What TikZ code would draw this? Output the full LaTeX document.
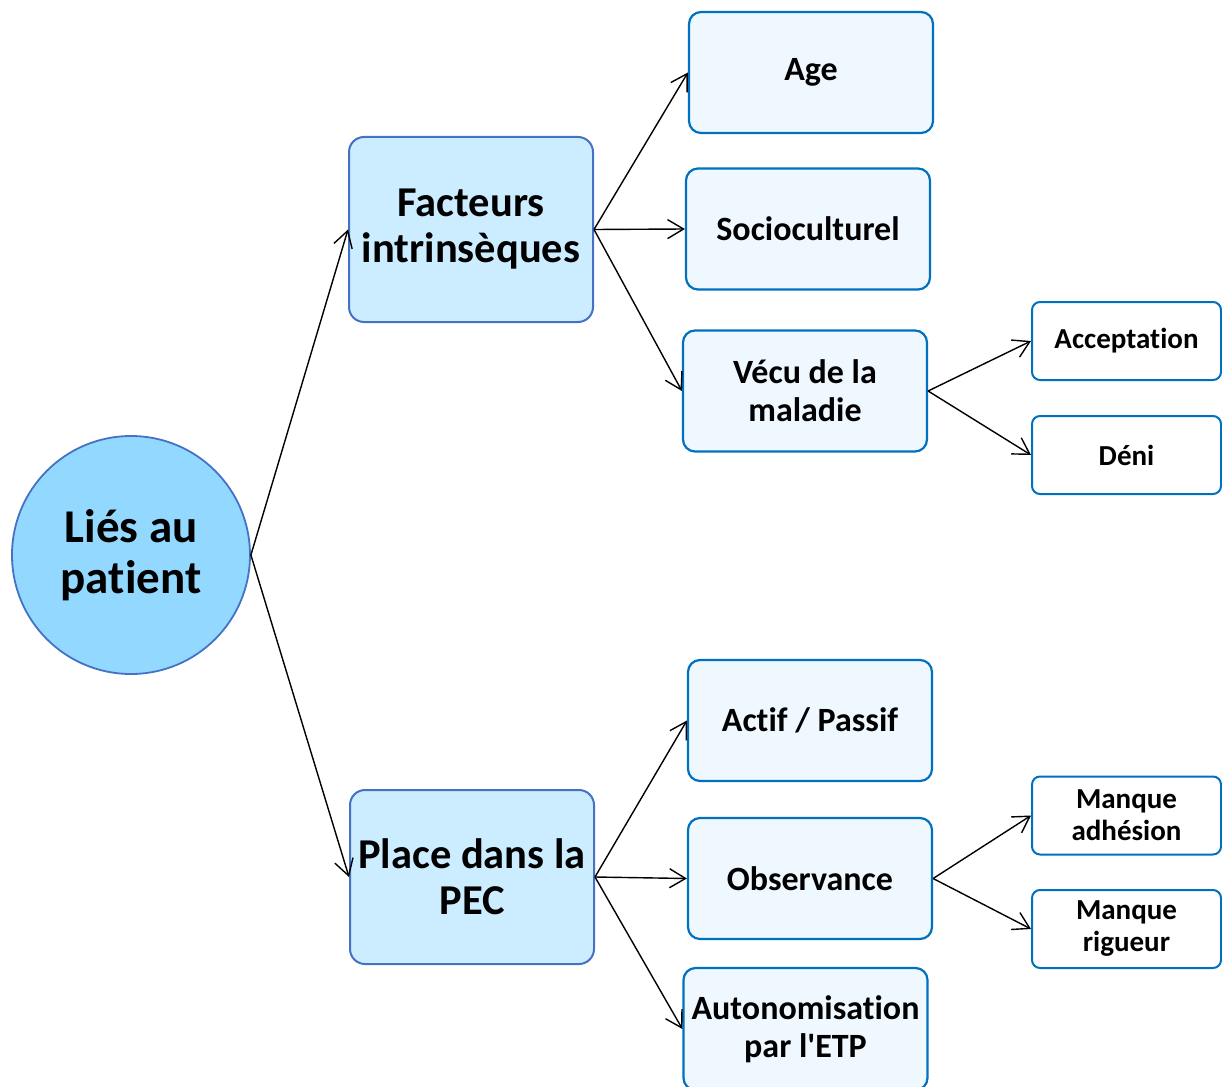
\documentclass[tikz,border=0pt]{standalone}
\usepackage{fontspec}
\setmainfont{Carlito}[Ligatures={NoCommon}]
\usetikzlibrary{arrows.meta}

\definecolor{rootfill}{RGB}{147,217,255}
\definecolor{midfill}{RGB}{204,236,255}
\definecolor{leaffill}{RGB}{240,248,255}
\definecolor{darkline}{RGB}{68,114,196}
\definecolor{leafline}{RGB}{0,112,192}

\tikzset{
  root/.style={circle, draw=darkline, fill=rootfill, line width=1.8pt, minimum size=238pt, inner sep=0pt, align=center, font=\bfseries\fontsize{47}{51}\selectfont},
  midbox/.style={draw=darkline, fill=midfill, line width=2pt, rounded corners=15pt, minimum width=244pt, inner sep=0pt, align=center, font=\bfseries\fontsize{42.5}{46}\selectfont},
  leafbox/.style={draw=leafline, fill=leaffill, line width=2.2pt, rounded corners=12pt, minimum width=244pt, minimum height=121pt, inner sep=0pt, align=center, font=\bfseries\fontsize{34}{38}\selectfont},
  tipbox/.style={draw=leafline, fill=white, line width=2pt, rounded corners=8pt, minimum width=189pt, minimum height=78pt, inner sep=0pt, align=center, font=\bfseries\fontsize{29}{32}\selectfont},
  link/.style={-{Straight Barb[length=16pt, width=19pt]}, line width=1.4pt}
}

\begin{document}
\begin{tikzpicture}[x=1pt, y=-1pt]
  \useasboundingbox (0,0) rectangle (1222,1086);

  \node[root] at (131,555) (patient) {Liés au\\patient};

  \node[midbox, minimum height=185pt] at (471,229.5) (facteurs) {Facteurs\\intrinsèques};
  \node[midbox, minimum height=174pt] at (472,877) (place) {Place dans la\\PEC};

  \node[leafbox] at (811,72.5) (age) {Age};
  \node[leafbox] at (808,229) (socio) {Socioculturel};
  \node[leafbox] at (805,391) (vecu) {Vécu de la\\maladie};
  \node[leafbox] at (810,720.5) (actif) {Actif / Passif};
  \node[leafbox] at (810,878.5) (observ) {Observance};
  \node[leafbox, minimum height=122pt] at (805.5,1029) (autonom) {Autonomisation\\par l\textquotesingle ETP};

  \node[tipbox] at (1126.5,341) (accept) {Acceptation};
  \node[tipbox] at (1126.5,455) (deni) {Déni};
  \node[tipbox] at (1126.5,815.5) (adhesion) {Manque\\adhésion};
  \node[tipbox] at (1126.5,929) (rigueur) {Manque\\rigueur};

  \draw[link] (patient.east) -- (facteurs.west);
  \draw[link] (patient.east) -- (place.west);

  \draw[link] (facteurs.east) -- (age.west);
  \draw[link] (facteurs.east) -- (socio.west);
  \draw[link] (facteurs.east) -- (vecu.west);

  \draw[link] (vecu.east) -- (accept.west);
  \draw[link] (vecu.east) -- (deni.west);

  \draw[link] (place.east) -- (actif.west);
  \draw[link] (place.east) -- (observ.west);
  \draw[link] (place.east) -- (autonom.west);

  \draw[link] (observ.east) -- (adhesion.west);
  \draw[link] (observ.east) -- (rigueur.west);
\end{tikzpicture}
\end{document}
